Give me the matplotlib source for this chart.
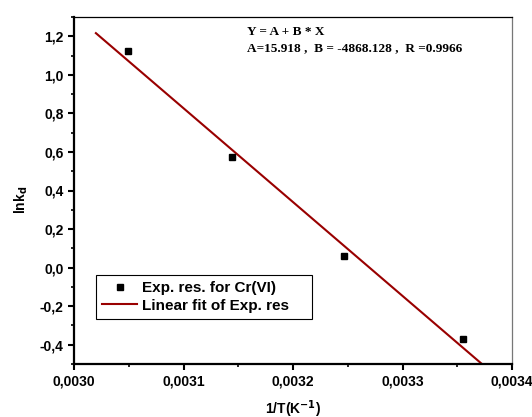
import matplotlib

matplotlib.use("Agg")
import matplotlib.pyplot as plt
import numpy as np
from matplotlib.ticker import FuncFormatter, MultipleLocator

# data
inv_t = [0.003049, 0.003144, 0.003247, 0.003355]
ln_kd = [1.122, 0.573, 0.060, -0.370]
fit_a = 15.918
fit_b = -4868.128
fit_x = [0.00302, 0.00340]

LINE_RED = "#990000"

plt.rcParams["font.family"] = ["Liberation Sans", "DejaVu Sans"]

fig = plt.figure(figsize=(5.32, 4.17), dpi=100)
ax = fig.add_axes([74 / 532, 1 - 364 / 417, (512 - 74) / 532, (364 - 17) / 417])

fx = np.array(fit_x)
ax.plot(fx, fit_a + fit_b * fx, color=LINE_RED, linewidth=1.5,
        label="Linear fit of Exp. res", zorder=2)
ax.plot(inv_t, ln_kd, linestyle="none", marker="s", markersize=5,
        color="black", label="Exp. res. for Cr(VI)", zorder=3)

ax.set_xlim(0.0030, 0.0034)
ax.set_ylim(-0.5, 1.3)
ax.xaxis.set_major_locator(MultipleLocator(0.0001))
ax.xaxis.set_minor_locator(MultipleLocator(0.00005))
ax.yaxis.set_major_locator(MultipleLocator(0.2))
ax.yaxis.set_minor_locator(MultipleLocator(0.1))
ax.xaxis.set_major_formatter(FuncFormatter(lambda v, p: f"{v:.4f}".replace(".", ",")))
ax.yaxis.set_major_formatter(FuncFormatter(lambda v, p: f"{v:.1f}".replace(".", ",").replace("-0,0", "0,0")))

ax.tick_params(which="major", direction="out", length=4, width=1.5, labelsize=10)
ax.tick_params(which="minor", direction="out", length=2.5, width=1.2)
for lab in ax.get_xticklabels() + ax.get_yticklabels():
    lab.set_fontweight("bold")

for side in ["left", "bottom"]:
    ax.spines[side].set_linewidth(1.6)
    ax.spines[side].set_color("black")
ax.spines["top"].set_linewidth(0.9)
ax.spines["right"].set_linewidth(0.9)
ax.spines["right"].set_color("#777777")

ax.set_xlabel("1/T(K$^{\\mathbf{-1}}$)", fontsize=10, fontweight="bold", labelpad=7)
ax.set_ylabel("lnk$_\\mathbf{d}$", fontsize=10, fontweight="bold")
ax.yaxis.set_label_coords(-0.101, 0.473)

ax.text(0.395, 0.957, "Y = A + B * X", transform=ax.transAxes,
        family="Liberation Serif", fontweight="bold", fontsize=9.5, va="center")
ax.text(0.395, 0.91, "A=15.918 ,  B = -4868.128 ,  R =0.9966", transform=ax.transAxes,
        family="Liberation Serif", fontweight="bold", fontsize=9.5, va="center")

handles, labels = ax.get_legend_handles_labels()
leg = ax.legend(handles[::-1], labels[::-1], loc="lower left", mode="expand",
                bbox_to_anchor=(0.050, 0.130, 0.493, 0.12), fancybox=False,
                framealpha=1, edgecolor="black", prop={"weight": "bold", "size": 11},
                handlelength=2.3, handletextpad=0.35, borderpad=0.4,
                labelspacing=0.25, borderaxespad=0)
leg.get_frame().set_linewidth(0.8)

fig.savefig("out.png", dpi=100, facecolor="white")
